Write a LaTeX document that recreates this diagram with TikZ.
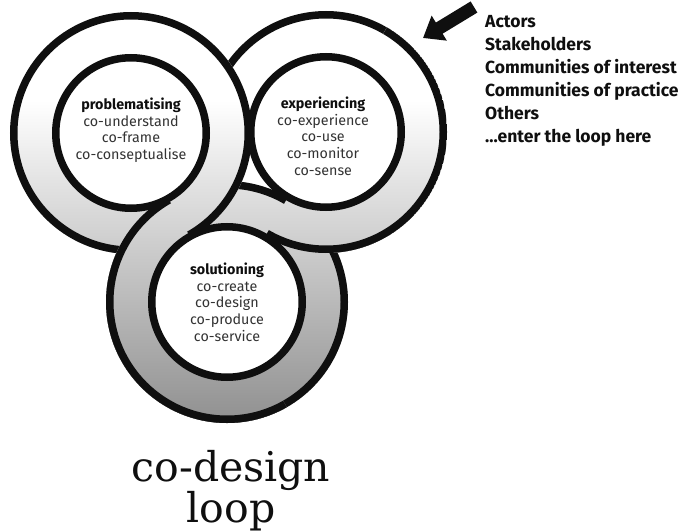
\documentclass[tikz,border=0pt]{standalone}
\usepackage{fontspec}
\setmainfont{Fira Sans}
\newfontfamily\slabfont{DejaVu Serif}
\usetikzlibrary{arrows.meta,calc}
\definecolor{bandbot}{gray}{0.56}
\definecolor{inktext}{gray}{0.2}
\definecolor{ink}{gray}{0.06}
\newcommand\bandshade{%
  \fill[white] (-10,-10) rectangle (700,100);
  \shade[top color=white,bottom color=bandbot] (-10,100) rectangle (700,426);
  \fill[bandbot] (-10,425) rectangle (700,545);
}
\begin{document}
\begin{tikzpicture}[x=1pt,y=-1pt,
  edge/.style={draw=ink,line width=7.5pt},
  disk/.style={fill=white,draw=ink,line width=7.5pt},
  phase/.style={font=\fontsize{14.3}{16.8}\selectfont,text=inktext,align=center,inner sep=0pt,anchor=north},
  listtext/.style={font=\bfseries\fontsize{17.5}{23}\selectfont,text=ink,align=left,inner sep=0pt,anchor=north west},
  titletext/.style={font=\slabfont\fontsize{41}{40}\selectfont,text=ink,align=center,inner sep=0pt,anchor=north}]
\useasboundingbox (0,0) rectangle (688,532);
\fill[white] (0,0) rectangle (688,532);

\coordinate (L) at (131,133);
\coordinate (R) at (326,132);
\coordinate (B) at (227,302);

% right ring band
\begin{scope}
  \clip (R) circle[radius=121pt];
  \bandshade
\end{scope}
\draw[edge] (R) circle[radius=117.25pt];
\fill[white] (R) -- +(125:135) -- +(146:140) -- +(168:135) -- cycle;

% bottom ring band
\begin{scope}
  \clip (B) circle[radius=121pt];
  \bandshade
\end{scope}
\draw[edge] (B) circle[radius=117.25pt];

% left ring band
\begin{scope}
  \clip (L) circle[radius=121pt];
  \bandshade
\end{scope}
\draw[edge] (L) circle[radius=117.25pt];

% bottom band over left band (outer left crossing)
\begin{scope}
  \clip ($(L)!-2!(B)$) -- ($(L)!2!(B)$) -- (-400,471) -- (-400,-205) -- cycle;
  \clip (B) circle[radius=121pt];
  \bandshade
  \draw[edge] (B) circle[radius=117.25pt];
\end{scope}

% right band over bottom band (outer right crossing)
\begin{scope}
  \clip ($(R)!-2!(B)$) -- ($(R)!2!(B)$) -- (900,472) -- (900,-208) -- cycle;
  \clip (R) circle[radius=121pt];
  \bandshade
  \draw[edge] (R) circle[radius=117.25pt];
\end{scope}

% inner discs
\draw[disk] (L) circle[radius=75.25pt];
\draw[disk] (R) circle[radius=75.25pt];
\draw[disk] (B) circle[radius=75.25pt];

% texts
\node[phase] (ptext) at (131,97.5) {{\color{ink}\bfseries problematising}\\co-understand\\co-frame\\co-conseptualise};
\node[phase] (etext) at (323,96.5) {{\color{ink}\bfseries experiencing}\\co-experience\\co-use\\co-monitor\\co-sense};
\node[phase] (stext) at (227,262.5) {{\color{ink}\bfseries solutioning}\\co-create\\co-design\\co-produce\\co-service};

\node[listtext] (actors) at (485,15) {Actors\\Stakeholders\\Communities of interest\\Communities of practice\\Others\\...enter the loop here};

\node[titletext] (title) at (231,450) {co-design\\loop};

% entry arrow
\coordinate (arrtail) at (474,7);
\coordinate (arrtip) at (423,38);
\draw[ink,line width=13pt,-{Triangle[length=19pt,width=28pt]}] (arrtail) -- (arrtip);
\end{tikzpicture}
\end{document}
